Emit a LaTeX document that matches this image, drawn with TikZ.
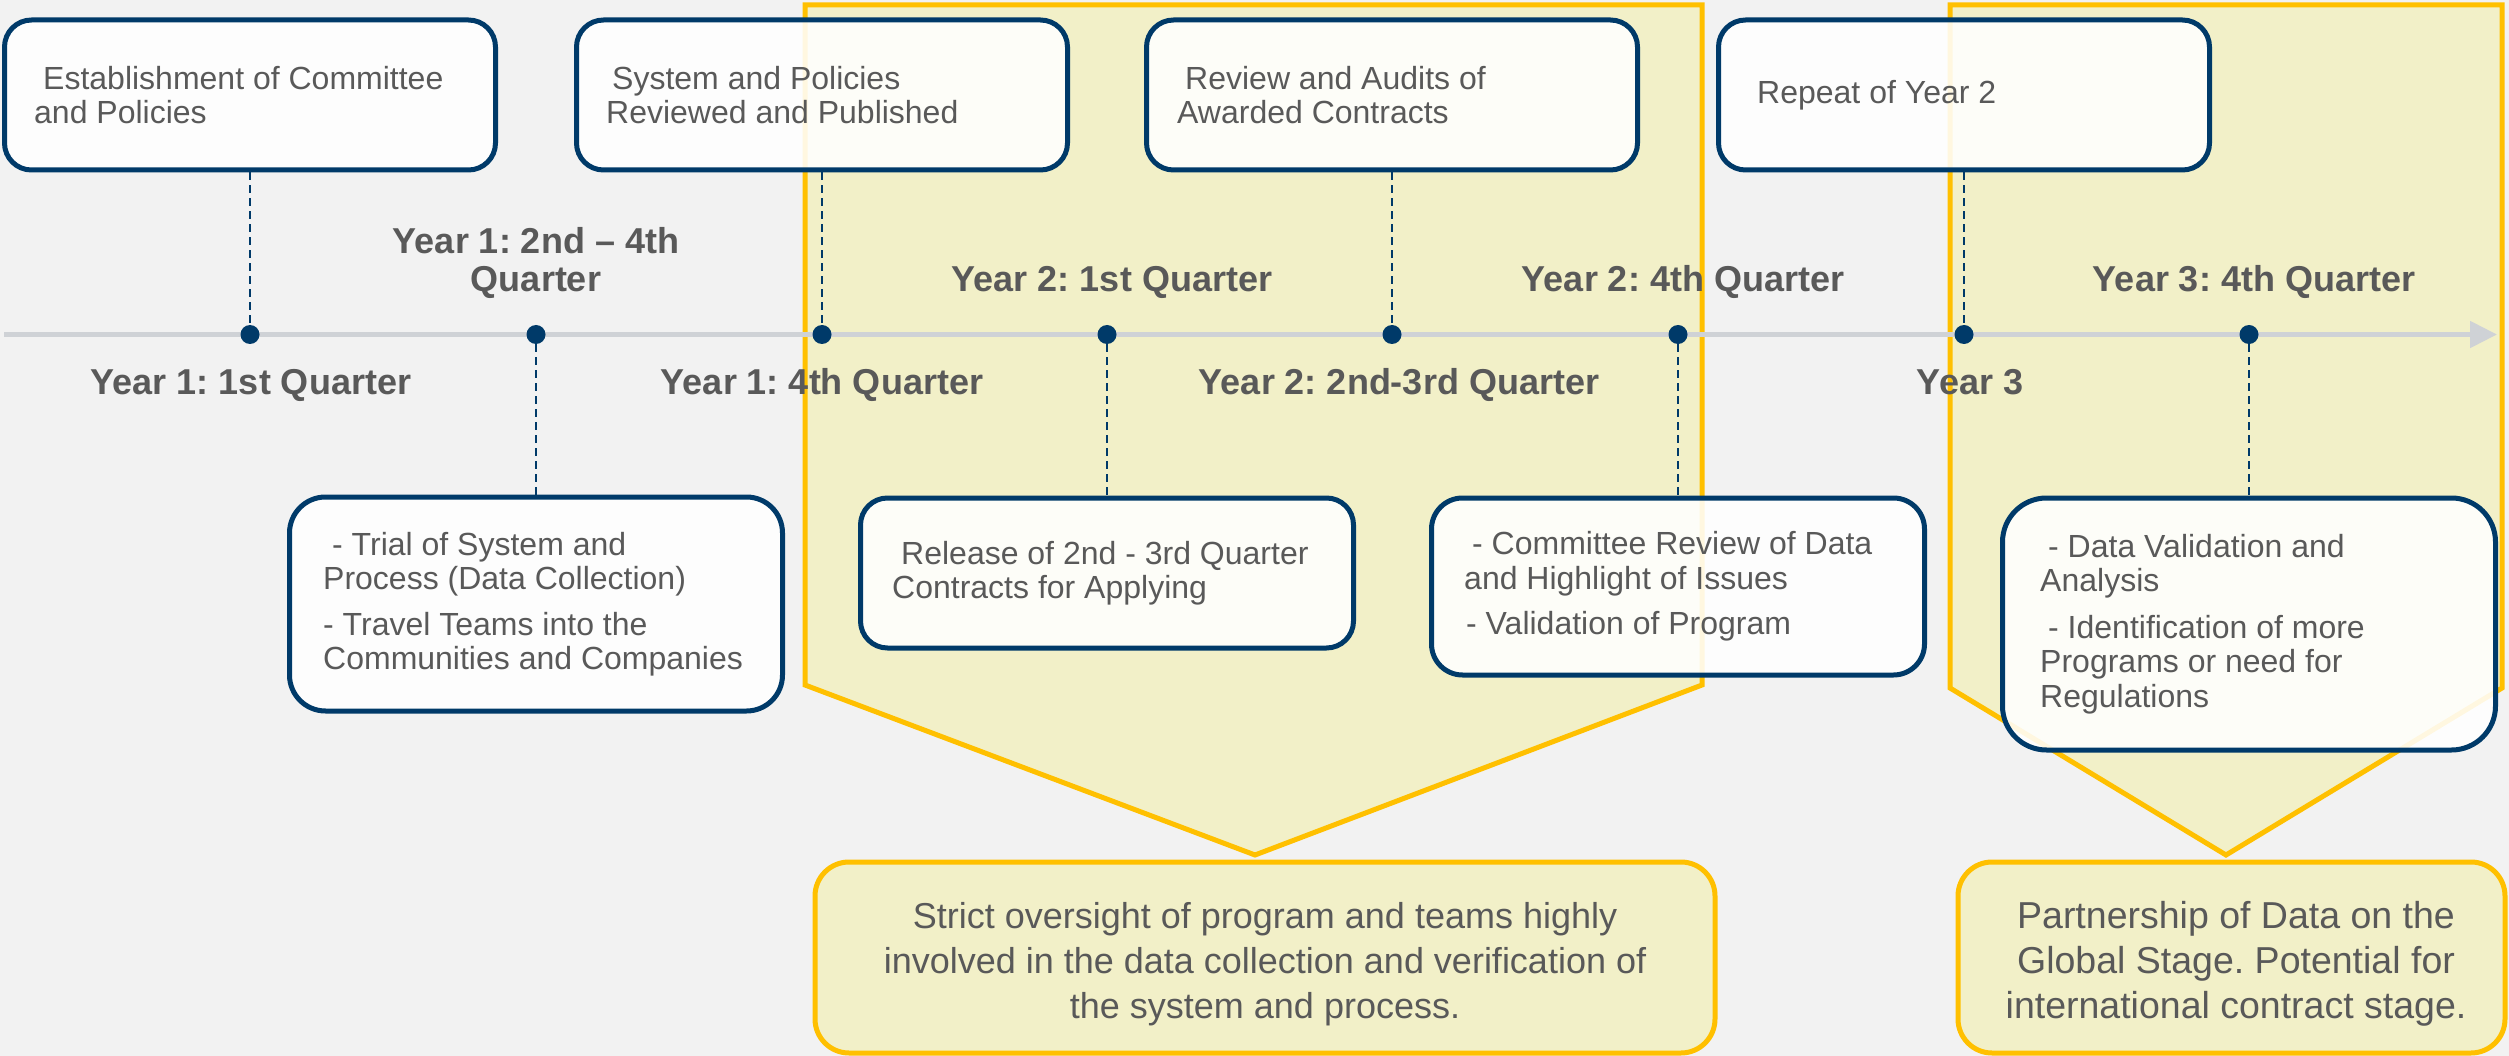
\documentclass[tikz,border=0pt]{standalone}
\usepackage{fontspec}
\setmainfont{Liberation Sans}
\usetikzlibrary{arrows.meta}
\definecolor{bgc}{RGB}{242,242,242}
\definecolor{navy}{RGB}{0,58,105}
\definecolor{tgray}{RGB}{89,89,89}
\definecolor{tlgray}{RGB}{207,210,214}
\definecolor{ygold}{RGB}{255,192,0}
\definecolor{yfill}{RGB}{242,240,200}
\begin{document}
\frenchspacing
\begin{tikzpicture}[x=1pt,y=-1pt,
  pent/.style={draw=ygold, line width=5pt, fill=yfill, line join=miter},
  ybox/.style={draw=ygold, line width=5pt, fill=yfill, rounded corners=34pt, inner sep=0pt, minimum width=#1},
  tline/.style={draw=tlgray, line width=5pt, -{Triangle[length=27pt,width=26pt]}},
  tdot/.style={circle, fill=navy, minimum size=19pt, inner sep=0pt},
  conn/.style={draw=navy, line width=1.8pt, dash pattern=on 8pt off 5pt},
  ebox/.style={draw=navy, line width=5pt, fill=white, fill opacity=0.88, draw opacity=1, inner sep=0pt, minimum width=491pt},
  btext/.style={font=\fontsize{32}{34.5}\selectfont\frenchspacing, text=tgray, align=left, inner sep=0pt, anchor=west},
  ylab/.style={font=\fontsize{36}{38}\selectfont\bfseries\frenchspacing, text=tgray, anchor=base, inner sep=0pt, align=center},
  ytext/.style={font=\fontsize{#1}{45}\selectfont\frenchspacing, text=tgray, align=center, inner sep=0pt}
]
\useasboundingbox (0,0) rectangle (2509,1056);
\fill[bgc] (0,0) rectangle (2509,1056);

% chevrons
\path[pent] (805,5) -- (1702,5) -- (1702,685) -- (1255,855) -- (805,685) -- cycle;
\path[pent] (1950,5) -- (2502,5) -- (2502,688) -- (2226,855) -- (1950,688) -- cycle;

% summary boxes
\node[ybox=900pt, minimum height=191pt] (S1) at (1265,957.5) {};
\node[ybox=547pt, minimum height=191pt] (S2) at (2231.5,957.5) {};
\node[ytext=36] (S1t) at (1265,964) {Strict oversight of program and teams highly\\involved in the data collection and verification of\\the system and process.};
\node[ytext=37.5] (S2t) at (2236,964) {Partnership of Data on the\\Global Stage. Potential for\\international contract stage.};

% timeline
\coordinate (tlstart) at (4,334.5);
\coordinate (tlend) at (2497,334.5);
\draw[tline] (tlstart) -- (tlend);

% dots
\node[tdot] (d1) at (250,334.5) {};
\node[tdot] (d2) at (536,334.5) {};
\node[tdot] (d3) at (822,334.5) {};
\node[tdot] (d4) at (1107,334.5) {};
\node[tdot] (d5) at (1392,334.5) {};
\node[tdot] (d6) at (1678,334.5) {};
\node[tdot] (d7) at (1964,334.5) {};
\node[tdot] (d8) at (2249,334.5) {};

% top boxes
\node[ebox, minimum height=150pt, rounded corners=27pt] (T1) at (250,95) {};
\node[ebox, minimum height=150pt, rounded corners=27pt] (T2) at (822,95) {};
\node[ebox, minimum height=150pt, rounded corners=27pt] (T3) at (1392,95) {};
\node[ebox, minimum height=150pt, rounded corners=27pt] (T4) at (1964,95) {};

% bottom boxes
\node[ebox, minimum width=493pt, minimum height=214pt, rounded corners=36pt] (B1) at (536,604) {};
\node[ebox, minimum width=493pt, minimum height=150pt, rounded corners=27pt] (B2) at (1107,573) {};
\node[ebox, minimum width=493pt, minimum height=177pt, rounded corners=31pt] (B3) at (1678,586.5) {};
\node[ebox, minimum width=493pt, minimum height=252pt, rounded corners=44pt] (B4) at (2249,624) {};

% connectors
\draw[conn] (T1) -- (d1);
\draw[conn] (d2) -- (B1);
\draw[conn] (T2) -- (d3);
\draw[conn] (d4) -- (B2);
\draw[conn] (T3) -- (d5);
\draw[conn] (d6) -- (B3);
\draw[conn] (T4) -- (d7);
\draw[conn] (d8) -- (B4);

% box texts
\node[btext] (T1t) at (34,95) {\hspace*{9pt}Establishment of Committee\\and Policies};
\node[btext] (T2t) at (606,95) {\hspace*{6pt}System and Policies\\Reviewed and Published};
\node[btext] (T3t) at (1177,95) {\hspace*{8pt}Review and Audits of\\Awarded Contracts};
\node[btext] (T4t) at (1757,95) {Repeat of Year 2};

\node[btext] (B1t) at (323,604) {\hspace*{9pt}- Trial of System and\\Process (Data Collection)\\[11pt]- Travel Teams into the\\Communities and Companies};
\node[btext] (B2t) at (892,573) {\hspace*{9pt}Release of 2nd - 3rd Quarter\\Contracts for Applying};
\node[btext] (B3t) at (1464,586.5) {\hspace*{8pt}- Committee Review of Data\\and Highlight of Issues\\[11pt]\hspace*{2pt}- Validation of Program};
\node[btext] (B4t) at (2040,624) {\hspace*{8pt}- Data Validation and\\Analysis\\[12pt]\hspace*{8pt}- Identification of more\\Programs or need for\\Regulations};

% timeline labels
\node[ylab] (L1) at (251,395) {Year 1: 1st Quarter};
\node[ylab] (L2) at (536,292) {Year 1: 2nd – 4th\\Quarter};
\node[ylab] (L3) at (822,395) {Year 1: 4th Quarter};
\node[ylab] (L4) at (1112,292) {Year 2: 1st Quarter};
\node[ylab] (L5) at (1399,395) {Year 2: 2nd-3rd Quarter};
\node[ylab] (L6) at (1683,292) {Year 2: 4th Quarter};
\node[ylab] (L7) at (1970,395) {Year 3};
\node[ylab] (L8) at (2254,292) {Year 3: 4th Quarter};
\end{tikzpicture}
\end{document}
